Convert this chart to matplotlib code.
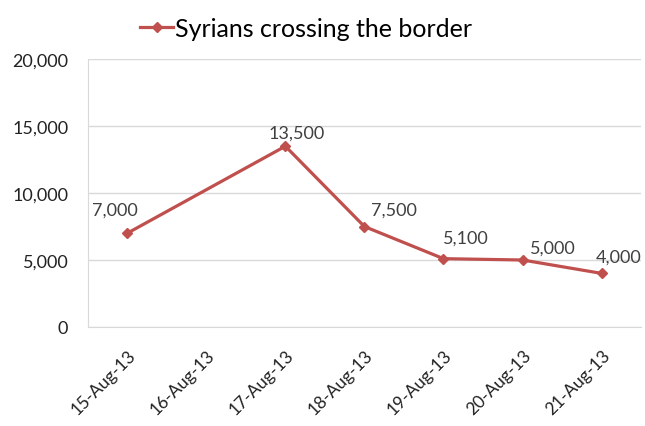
import numpy as np
import matplotlib.pyplot as plt

dates = ["15-Aug-13", "16-Aug-13", "17-Aug-13", "18-Aug-13", "19-Aug-13", "20-Aug-13", "21-Aug-13"]
crossings = [7000, np.nan, 13500, 7500, 5100, 5000, 4000]

plt.rcParams['font.family'] = ['Lato', 'DejaVu Sans']

red = '#C0504D'
fig = plt.figure(figsize=(6.45, 4.27), dpi=100)
ax = fig.add_axes([0.136, 0.232, 0.858, 0.627])

x = np.arange(len(dates))
vals = np.array(crossings, dtype=float)
ok = ~np.isnan(vals)
ax.plot(x[ok], vals[ok], color=red, lw=2.3, marker='D', ms=5.5,
        label='Syrians crossing the border')

# label offsets in points, the way they sit in the original
offs = [(-9, 17), (8, 10), (21, 12), (16, 15), (22, 9), (12, 12)]
for (xi, v), (dx, dy) in zip(zip(x[ok], vals[ok]), offs):
    ax.annotate(f"{int(v):,}", (xi, v), xytext=(dx, dy), textcoords='offset points',
                ha='center', va='center', fontsize=13, color='#404040')

ax.set_xlim(-0.5, len(dates) - 0.5)
ax.set_ylim(0, 20000)
ax.set_yticks(range(0, 20001, 5000))
ax.set_yticklabels([f"{t:,}" for t in range(0, 20001, 5000)], fontsize=13, color='#222222')
ax.set_xticks(x)
ax.set_xticklabels(dates, rotation=45, ha='right', rotation_mode='anchor', fontsize=12.5, color='#222222')
ax.tick_params(axis='y', length=0, pad=14)
ax.tick_params(axis='x', length=0, pad=14)

ax.grid(axis='y', color='#d9d9d9', lw=1)
ax.set_axisbelow(True)
for s in ['top', 'right']:
    ax.spines[s].set_visible(False)
ax.spines['left'].set_color('#d9d9d9')
ax.spines['bottom'].set_color('#d9d9d9')

fig.legend(loc='upper center', bbox_to_anchor=(0.475, 1.01), frameon=False,
           fontsize=18, handlelength=1.3, handletextpad=0.1)

fig.savefig('out.png', dpi=100, facecolor='white')
